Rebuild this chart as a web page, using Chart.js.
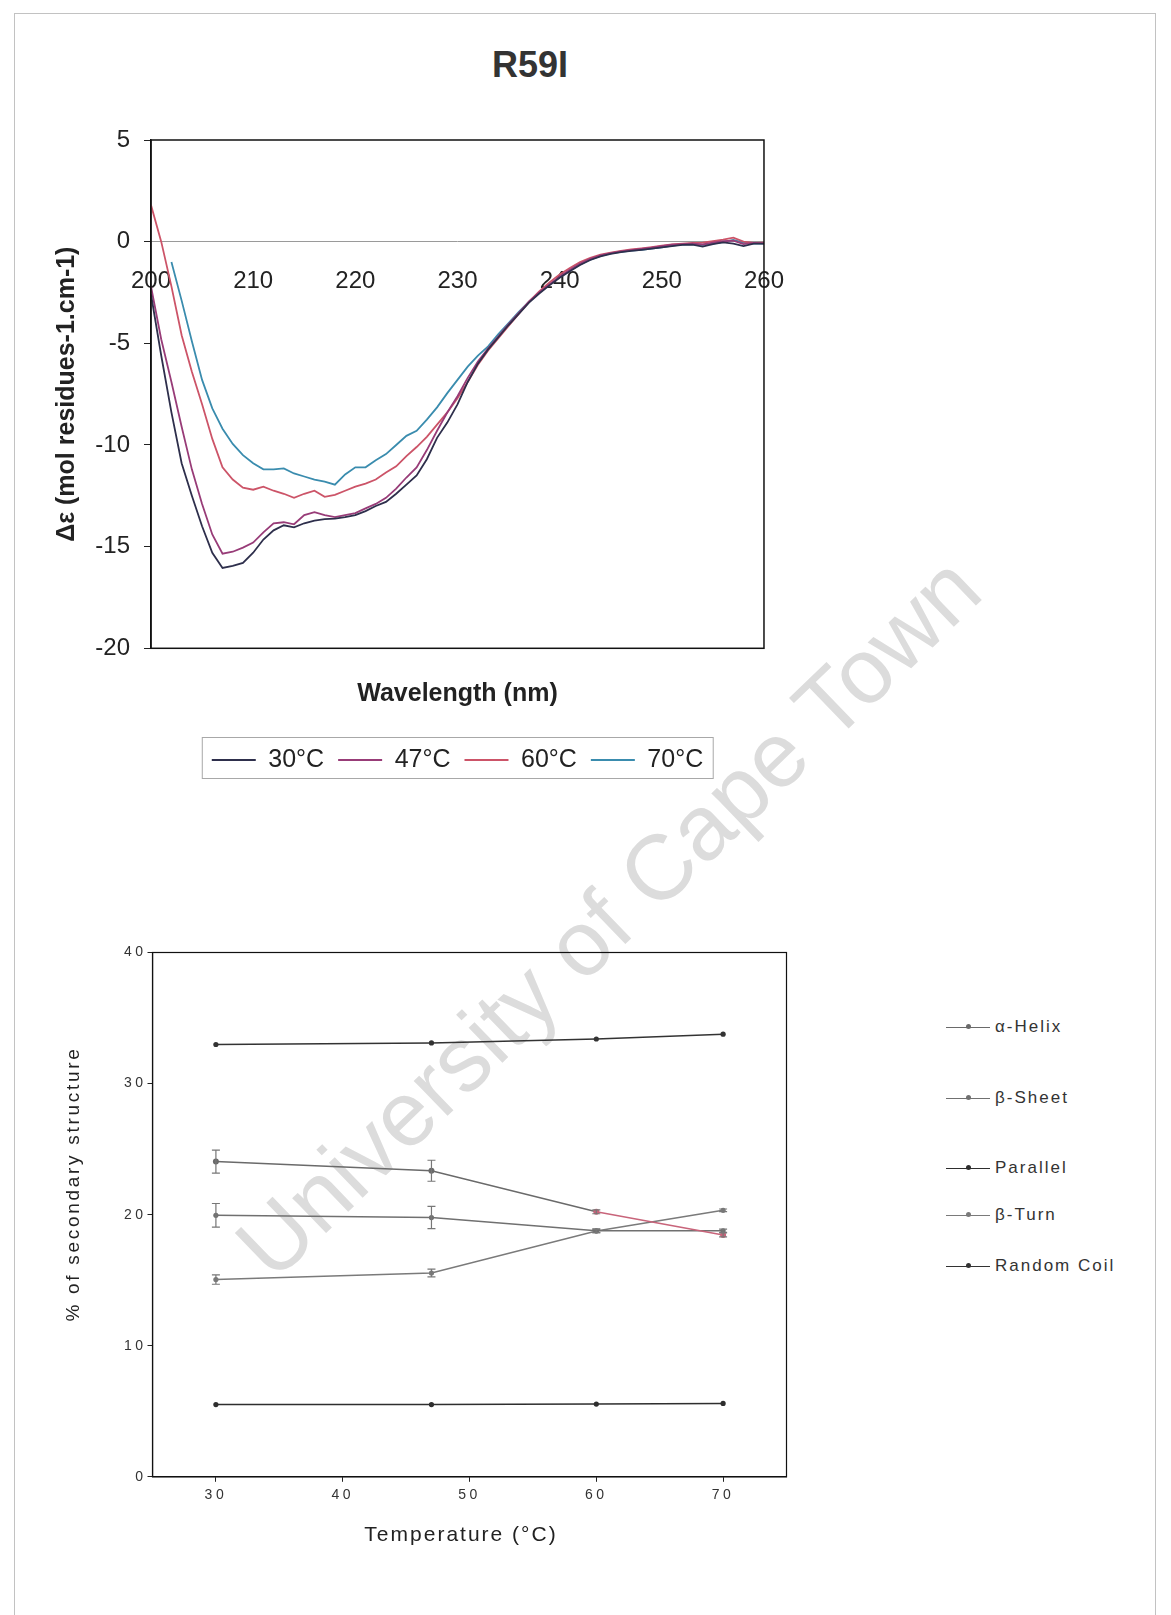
<!DOCTYPE html>
<html>
<head>
<meta charset="utf-8">
<title>R59I</title>
<script src="https://cdn.jsdelivr.net/npm/chart.js@4.4.1/dist/chart.umd.min.js"></script>
<style>
  html, body { margin: 0; padding: 0; background: #fff; }
  #page { position: relative; width: 1171px; height: 1615px; overflow: hidden; font-family: "Liberation Sans", Arial, sans-serif; }
  .edge { position: absolute; left: 14px; top: 13px; width: 1140px; height: 1660px; border: 1.5px solid #c2c2c2; border-bottom: none; }
  .stamp { position: absolute; left: 608px; top: 917px; transform: translate(-50%, -50%) rotate(-44deg); font-size: 92px; color: #dcdcdc; white-space: nowrap; z-index: 0; }
  h1 { position: absolute; left: 530px; top: 65px; transform: translate(-50%, -50%); margin: 0; font-size: 36px; font-weight: bold; color: #333; }
  canvas { position: absolute; z-index: 1; }
  #cdChart { left: 0; top: 110px; }
  #ssChart { left: 0; top: 900px; }
  .key { position: absolute; left: 946px; height: 24px; display: flex; align-items: center; z-index: 1; }
  .key .ln { position: relative; width: 44px; height: 0; border-top: 1.5px solid #888; }
  .key .dot { position: absolute; left: 20px; top: -3.5px; width: 5px; height: 5px; border-radius: 50%; }
  .key .txt { margin-left: 5px; font-size: 17px; letter-spacing: 2px; color: #333; }
</style>
</head>
<body>
<div id="page">
  <div class="edge"></div>
  <div class="stamp">University of Cape Town</div>
  <h1>R59I</h1>
  <canvas id="cdChart" width="809" height="680"></canvas>
  <canvas id="ssChart" width="860" height="680"></canvas>
  <div id="ssKey"></div>
</div>
<script>
// CD spectra, 200-260 nm
const wavelengthNm = [200, 201, 202, 203, 204, 205, 206, 207, 208, 209,
  210, 211, 212, 213, 214, 215, 216, 217, 218, 219,
  220, 221, 222, 223, 224, 225, 226, 227, 228, 229,
  230, 231, 232, 233, 234, 235, 236, 237, 238, 239,
  240, 241, 242, 243, 244, 245, 246, 247, 248, 249,
  250, 251, 252, 253, 254, 255, 256, 257, 258, 259, 260];

const cd30 = [-2.6, -5.6, -8.4, -10.9, -12.5, -14.0, -15.3, -16.05, -15.95, -15.8,
  -15.3, -14.65, -14.2, -13.95, -14.05, -13.85, -13.72, -13.65, -13.62, -13.55,
  -13.45, -13.25, -13.0, -12.8, -12.4, -11.95, -11.5, -10.7, -9.65, -8.9,
  -8.0, -6.9, -6.0, -5.3, -4.7, -4.1, -3.55, -3.0, -2.55, -2.15,
  -1.78, -1.45, -1.15, -0.9, -0.72, -0.6, -0.52, -0.45, -0.4, -0.34,
  -0.28, -0.22, -0.16, -0.15, -0.24, -0.12, -0.04, -0.1, -0.22, -0.1, -0.1];

const cd47 = [-2.2, -4.8, -6.9, -9.1, -11.2, -12.9, -14.4, -15.35, -15.25, -15.05,
  -14.8, -14.3, -13.85, -13.8, -13.9, -13.45, -13.3, -13.45, -13.55, -13.45,
  -13.35, -13.12, -12.9, -12.6, -12.15, -11.6, -11.1, -10.25, -9.3, -8.4,
  -7.6, -6.7, -5.9, -5.25, -4.65, -4.05, -3.5, -2.95, -2.5, -2.1,
  -1.72, -1.38, -1.08, -0.85, -0.68, -0.56, -0.48, -0.42, -0.36, -0.3,
  -0.22, -0.15, -0.12, -0.1, -0.14, -0.05, 0.02, 0.05, -0.12, -0.06, -0.08];

const cd60 = [1.8, 0.0, -2.2, -4.6, -6.4, -8.0, -9.7, -11.1, -11.7, -12.1,
  -12.2, -12.05, -12.25, -12.4, -12.6, -12.4, -12.25, -12.55, -12.45, -12.25,
  -12.05, -11.9, -11.7, -11.35, -11.05, -10.55, -10.1, -9.6, -9.0, -8.4,
  -7.7, -6.9, -6.05, -5.35, -4.75, -4.15, -3.55, -2.95, -2.45, -2.0,
  -1.62, -1.3, -1.0, -0.8, -0.64, -0.54, -0.46, -0.38, -0.33, -0.27,
  -0.2, -0.14, -0.1, -0.06, -0.05, 0.02, 0.1, 0.2, 0.0, -0.06, -0.05];

const cd70 = [null, null, -1.0, -2.9, -4.9, -6.8, -8.2, -9.2, -9.95, -10.5,
  -10.9, -11.2, -11.2, -11.15, -11.4, -11.55, -11.7, -11.8, -11.95, -11.45,
  -11.1, -11.1, -10.75, -10.45, -10.0, -9.55, -9.3, -8.75, -8.15, -7.45,
  -6.8, -6.15, -5.6, -5.15, -4.55, -4.0, -3.45, -2.95, -2.5, -2.1,
  -1.75, -1.42, -1.12, -0.88, -0.7, -0.58, -0.5, -0.44, -0.4, -0.34,
  -0.28, -0.2, -0.14, -0.12, -0.16, -0.1, -0.02, 0.08, -0.05, -0.1, -0.1];

const tempLabels = ['30°C', '47°C', '60°C', '70°C'];
const cdTicksX = [200, 210, 220, 230, 240, 250, 260];
const cdTicksY = [-20, -15, -10, -5, 0, 5];

// secondary structure vs temperature
const temperatureC = [30, 47, 60, 70];
const alphaHelix = [24.05, 23.35, 20.22, 18.45];
const alphaHelixErr = [0.88, 0.8, 0.15, 0.15];
const betaSheet = [19.95, 19.78, 18.77, 18.77];
const betaSheetErr = [0.9, 0.85, 0.15, 0.12];
const parallel = [5.51, 5.51, 5.55, 5.6];
const betaTurn = [15.05, 15.55, 18.75, 20.33];
const betaTurnErr = [0.36, 0.3, 0.12, 0.1];
const randomCoil = [32.98, 33.1, 33.4, 33.77];
const structureNames = ['α-Helix', 'β-Sheet', 'Parallel', 'β-Turn', 'Random Coil'];
const ssTicksX = [30, 40, 50, 60, 70];
const ssTicksY = [0, 10, 20, 30, 40];

Chart.defaults.font.family = '"Liberation Sans", Arial, sans-serif';
Chart.defaults.color = '#222';

const fixTicks = list => scale => { scale.ticks = list.map(v => ({ value: v })); };

// black box round the plot area
const plotFrame = {
  id: 'plotFrame',
  afterDraw(chart, args, opts) {
    const { ctx, chartArea: a } = chart;
    ctx.save();
    ctx.strokeStyle = opts.color || '#000';
    ctx.lineWidth = opts.width || 1.5;
    ctx.strokeRect(a.left, a.top, a.right - a.left, a.bottom - a.top);
    ctx.restore();
  }
};

// thin border round the legend entries
const legendFrame = {
  id: 'legendFrame',
  afterDraw(chart) {
    const boxes = chart.legend && chart.legend.legendHitBoxes;
    if (!boxes || !boxes.length) return;
    const left = Math.min(...boxes.map(b => b.left)) - 9.5;
    const right = Math.max(...boxes.map(b => b.left + b.width)) + 10;
    const top = boxes[0].top - 10;
    const bottom = boxes[0].top + boxes[0].height + 6;
    const ctx = chart.ctx;
    ctx.save();
    ctx.strokeStyle = '#a8a8a8';
    ctx.lineWidth = 1;
    ctx.strokeRect(left, top, right - left, bottom - top);
    ctx.restore();
  }
};

// vertical error bars with caps
const errorBars = {
  id: 'errorBars',
  afterDatasetsDraw(chart) {
    const { ctx } = chart;
    const y = chart.scales.y;
    chart.data.datasets.forEach((ds, i) => {
      if (!ds.errors) return;
      const meta = chart.getDatasetMeta(i);
      ctx.save();
      ctx.strokeStyle = '#777';
      ctx.lineWidth = 1.2;
      meta.data.forEach((pt, j) => {
        const e = ds.errors[j];
        if (!e) return;
        const v = ds.data[j].y;
        const hi = y.getPixelForValue(v + e);
        const lo = y.getPixelForValue(v - e);
        ctx.beginPath();
        ctx.moveTo(pt.x, hi); ctx.lineTo(pt.x, lo);
        ctx.moveTo(pt.x - 4, hi); ctx.lineTo(pt.x + 4, hi);
        ctx.moveTo(pt.x - 4, lo); ctx.lineTo(pt.x + 4, lo);
        ctx.stroke();
      });
      ctx.restore();
    });
  }
};

// axis captions placed relative to the plot area
const captions = {
  id: 'captions',
  beforeDraw(chart) { chart.ctx.letterSpacing = '3.5px'; },
  afterDraw(chart, args, opts) {
    const { ctx, chartArea: a } = chart;
    ctx.letterSpacing = '0px';
    (opts.items || []).forEach(c => {
      ctx.save();
      ctx.fillStyle = '#222';
      ctx.font = c.font;
      ctx.letterSpacing = c.spacing;
      ctx.textAlign = 'center';
      ctx.textBaseline = 'middle';
      ctx.translate(a.left + c.dx, c.fromBottom ? a.bottom + c.dy : a.top + c.dy);
      ctx.rotate(c.rotate || 0);
      ctx.fillText(c.text, 0, 0);
      ctx.restore();
    });
  }
};

function cdSeries(label, values, color) {
  return {
    label,
    data: wavelengthNm.map((x, i) => ({ x, y: values[i] })),
    borderColor: color,
    backgroundColor: color,
    borderWidth: 1.8,
    pointRadius: 0,
    tension: 0
  };
}

new Chart(document.getElementById('cdChart'), {
  type: 'line',
  data: {
    datasets: [
      cdSeries(tempLabels[0], cd30, '#2e2f4c'),
      cdSeries(tempLabels[1], cd47, '#983c78'),
      cdSeries(tempLabels[2], cd60, '#cc5468'),
      cdSeries(tempLabels[3], cd70, '#3a8cae')
    ]
  },
  options: {
    responsive: false,
    animation: false,
    layout: { padding: { left: 52, right: 36, top: 30, bottom: 7.5 } },
    scales: {
      x: {
        type: 'linear',
        position: { y: 0 },
        min: 200,
        max: 260,
        afterBuildTicks: fixTicks(cdTicksX),
        grid: { drawOnChartArea: false, drawTicks: false },
        border: { color: '#9a9a9a', width: 1 },
        ticks: { padding: 25, maxRotation: 0, font: { size: 24 }, color: '#222' }
      },
      y: {
        min: -20,
        max: 5,
        afterBuildTicks: fixTicks(cdTicksY),
        afterFit: s => { s.width = 99; },
        grid: { drawOnChartArea: false, tickLength: 7, color: '#222' },
        border: { color: '#111', width: 1.5 },
        ticks: { padding: 14, font: { size: 24 }, color: '#222' },
        title: {
          display: true,
          text: 'Δε (mol residues-1.cm-1)',
          font: { size: 25, weight: 'bold' },
          padding: { top: 0, bottom: 0 },
          color: '#222'
        }
      }
    },
    plugins: {
      legend: {
        position: 'bottom',
        fullSize: false,
        weight: 1000,
        labels: {
          boxWidth: 44,
          boxHeight: 2,
          padding: 14,
          font: { size: 25 },
          color: '#222',
          generateLabels: chart => Chart.defaults.plugins.legend.labels.generateLabels(chart)
            .map(item => Object.assign(item, { lineWidth: 0 }))
        }
      },
      title: {
        display: true,
        text: 'Wavelength (nm)',
        position: 'bottom',
        fullSize: false,
        weight: 500,
        font: { size: 25, weight: 'bold' },
        padding: { top: 30.7, bottom: 24.5 },
        color: '#222'
      },
      tooltip: { enabled: false },
      plotFrame: { color: '#111', width: 1.5 }
    }
  },
  plugins: [plotFrame, legendFrame]
});

function ssSeries(label, values, color, errors, extra) {
  return Object.assign({
    label,
    data: temperatureC.map((x, i) => ({ x, y: values[i] })),
    errors,
    borderColor: color,
    backgroundColor: color,
    pointBackgroundColor: color,
    borderWidth: 1.5,
    pointRadius: 2.6,
    pointBorderWidth: 0,
    tension: 0
  }, extra || {});
}

const ssColors = ['#6a6a6a', '#707070', '#2e2e2e', '#7a7a7a', '#333333'];
const meltColor = '#c8647a';

new Chart(document.getElementById('ssChart'), {
  type: 'line',
  data: {
    datasets: [
      ssSeries(structureNames[0], alphaHelix, ssColors[0], alphaHelixErr, {
        pointBackgroundColor: [ssColors[0], ssColors[0], meltColor, meltColor],
        pointRadius: 3,
        segment: { borderColor: c => (c.p0DataIndex >= 2 ? meltColor : ssColors[0]) }
      }),
      ssSeries(structureNames[1], betaSheet, ssColors[1], betaSheetErr),
      ssSeries(structureNames[2], parallel, ssColors[2], null),
      ssSeries(structureNames[3], betaTurn, ssColors[3], betaTurnErr),
      ssSeries(structureNames[4], randomCoil, ssColors[4], null)
    ]
  },
  options: {
    responsive: false,
    animation: false,
    layout: { padding: { left: 0, right: 73.5, top: 52.5, bottom: 63.2 } },
    scales: {
      x: {
        type: 'linear',
        min: 25,
        max: 75,
        afterBuildTicks: fixTicks(ssTicksX),
        afterFit: s => { s.height = 40; },
        grid: { drawOnChartArea: false, tickLength: 5, color: '#222' },
        border: { color: '#111', width: 1.2 },
        ticks: { padding: 5.2, maxRotation: 0, font: { size: 14 }, color: '#333' }
      },
      y: {
        min: 0,
        max: 40,
        afterBuildTicks: fixTicks(ssTicksY),
        afterFit: s => { s.width = 152.5; },
        grid: { drawOnChartArea: false, tickLength: 5, color: '#222' },
        border: { color: '#111', width: 1.2 },
        ticks: { padding: 1, font: { size: 14 }, color: '#333' }
      }
    },
    plugins: {
      legend: { display: false },
      tooltip: { enabled: false },
      plotFrame: { color: '#111', width: 1.2 },
      captions: {
        items: [
          { text: 'Temperature (°C)', font: '21px "Liberation Sans", Arial, sans-serif', spacing: '2px', dx: 308.5, dy: 58.2, fromBottom: true },
          { text: '% of secondary structure', font: '19px "Liberation Sans", Arial, sans-serif', spacing: '2.7px', dx: -78.5, dy: 231.5, rotate: -Math.PI / 2 }
        ]
      }
    }
  },
  plugins: [plotFrame, errorBars, captions]
});

// legend for the structure classes, rows spaced as in the figure
const keyRowCentre = [1027, 1098, 1168, 1215, 1266];
const keyHost = document.getElementById('ssKey');
structureNames.forEach((name, i) => {
  const row = document.createElement('div');
  row.className = 'key';
  row.style.top = (keyRowCentre[i] - 12) + 'px';
  const ln = document.createElement('span');
  ln.className = 'ln';
  ln.style.borderTopColor = ssColors[i];
  const dot = document.createElement('span');
  dot.className = 'dot';
  dot.style.background = ssColors[i];
  ln.appendChild(dot);
  const txt = document.createElement('span');
  txt.className = 'txt';
  txt.textContent = name;
  row.appendChild(ln);
  row.appendChild(txt);
  keyHost.appendChild(row);
});
</script>
</body>
</html>
